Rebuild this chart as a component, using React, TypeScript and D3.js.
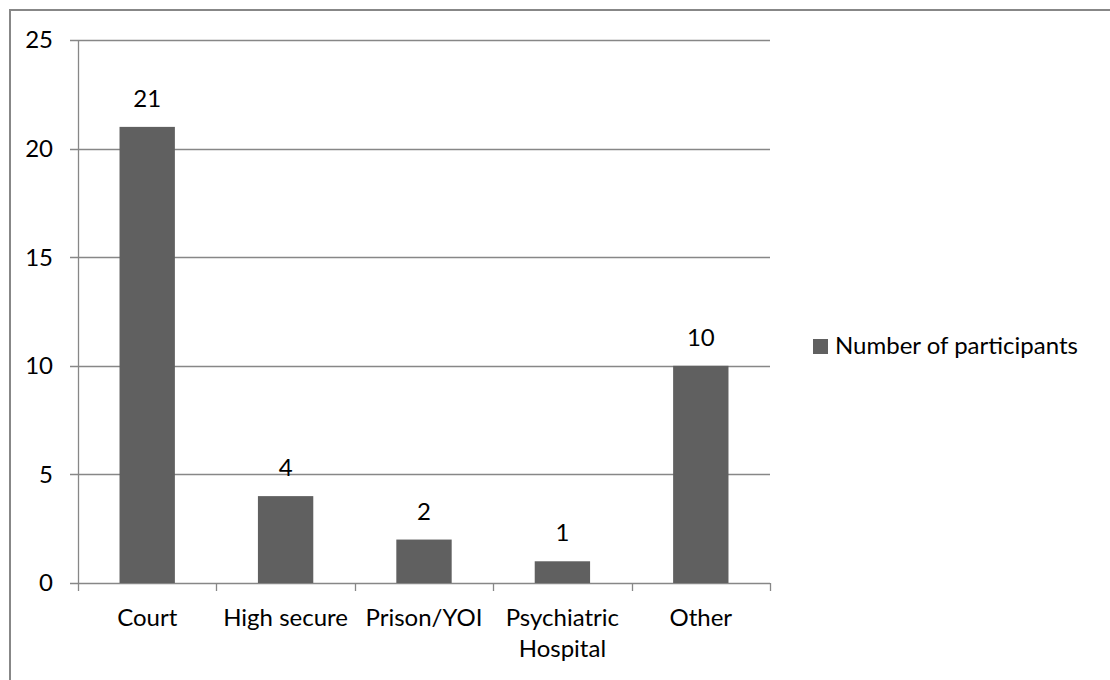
import React from "react";
import * as d3 from "d3";

const categories: string[][] = [
  ["Court"],
  ["High secure"],
  ["Prison/YOI"],
  ["Psychiatric", "Hospital"],
  ["Other"],
];
const participants: number[] = [21, 4, 2, 1, 10];
const yTicks: number[] = [0, 5, 10, 15, 20, 25];
const seriesName = "Number of participants";

const W = 1110;
const H = 680;
const FONT = "Lato, 'Open Sans', sans-serif";
const FS = 24;
const AXIS = "#878787";
const BAR = "#606060";

export default function App() {
  const keys = categories.map((c) => c.join(" "));
  const x = d3
    .scaleBand<string>()
    .domain(keys)
    .range([78, 770])
    .paddingInner(0.6)
    .paddingOuter(0.3);
  const y = d3.scaleLinear().domain([0, 25]).range([583, 40]);
  const step = (770 - 78) / keys.length;

  return (
    <svg
      width={W}
      height={H}
      style={{ position: "absolute", left: 0, top: 0, background: "#fff" }}
      fontFamily={FONT}
    >
      <rect x={0} y={0} width={W} height={H} fill="#fff" />
      {/* chart frame, running off the right and bottom edges */}
      <rect x={10} y={10} width={W + 20} height={H + 20} fill="none" stroke={AXIS} strokeWidth={2} />

      {/* horizontal gridlines with left tick marks */}
      {yTicks.map((t) => (
        <line
          key={"g" + t}
          x1={70}
          x2={770}
          y1={Math.round(y(t)) + 0.5}
          y2={Math.round(y(t)) + 0.5}
          stroke={AXIS}
          strokeWidth={1.3}
        />
      ))}
      {yTicks.map((t) => (
        <text
          key={"t" + t}
          x={53}
          y={y(t)}
          dy="0.35em"
          textAnchor="end"
          fontSize={FS}
          fill="#000"
        >
          {t}
        </text>
      ))}

      {/* y axis */}
      <line x1={78.5} x2={78.5} y1={40} y2={583} stroke={AXIS} strokeWidth={1.3} />

      {/* x axis tick marks at category boundaries */}
      {d3.range(keys.length + 1).map((i) => (
        <line
          key={"xt" + i}
          x1={Math.round(78 + i * step) + 0.5}
          x2={Math.round(78 + i * step) + 0.5}
          y1={583}
          y2={591}
          stroke={AXIS}
          strokeWidth={1.3}
        />
      ))}

      {/* bars */}
      {keys.map((k, i) => (
        <rect
          key={"b" + k}
          x={x(k)}
          y={y(participants[i])}
          width={x.bandwidth()}
          height={y(0) - y(participants[i])}
          fill={BAR}
        />
      ))}

      {/* value labels */}
      {keys.map((k, i) => (
        <text
          key={"v" + k}
          x={(x(k) as number) + x.bandwidth() / 2}
          y={y(participants[i]) - 20}
          textAnchor="middle"
          fontSize={FS}
          fill="#000"
        >
          {participants[i]}
        </text>
      ))}

      {/* category labels */}
      {categories.map((lines, i) => (
        <text
          key={"c" + i}
          x={(x(keys[i]) as number) + x.bandwidth() / 2}
          y={626}
          textAnchor="middle"
          fontSize={FS}
          fill="#000"
        >
          {lines.map((l, j) => (
            <tspan key={j} x={(x(keys[i]) as number) + x.bandwidth() / 2} dy={j === 0 ? 0 : 31}>
              {l}
            </tspan>
          ))}
        </text>
      ))}

      {/* legend */}
      <rect x={813} y={339} width={15} height={15} fill={BAR} />
      <text x={835} y={354} fontSize={FS} fill="#000">
        {seriesName}
      </text>
    </svg>
  );
}
